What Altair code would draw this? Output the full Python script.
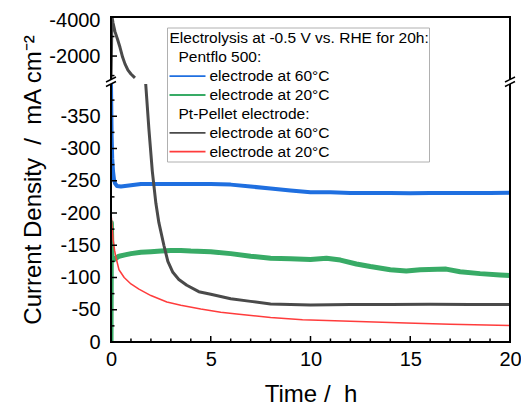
import altair as alt
import pandas as pd

# ---------------- data (time in h, current density in mA cm^-2) ----------------
blue_t = [0.0, 0.03, 0.06, 0.1, 0.15, 0.2, 0.3, 0.5, 1.0, 1.5, 2.0, 3.0, 4.0, 5.0, 6.0, 7.0,
          8.0, 9.0, 10.0, 11.0, 12.0, 13.0, 14.0, 15.0, 16.0, 17.0, 18.0, 19.0, 20.0]
blue_v = [-400, -320, -285, -265, -252, -246, -242, -241, -243, -245, -245, -245, -245, -245,
          -244, -241, -238, -235, -232, -232, -231, -231, -231, -230.5, -231, -231, -231, -231, -231.5]

green_t = [0.0, 0.02, 0.05, 0.1, 0.2, 0.4, 0.7, 1.0, 1.5, 2.0, 2.5, 3.0, 3.5, 4.0, 5.0, 6.0,
           7.0, 8.0, 9.0, 10.0, 10.8, 11.5, 12.3, 13.0, 14.0, 14.8, 15.5, 16.8, 17.5, 18.5, 19.5, 20.0]
green_v = [0, -185, -130, -127, -129, -133, -135, -137, -139, -140, -141, -142, -142, -141, -140,
           -137, -133, -130, -129, -128, -130, -127, -121, -117, -112, -110, -112, -113, -109,
           -106, -104, -103]

black_top_t = [0.0, 0.05, 0.1, 0.2, 0.33, 0.45, 0.58, 0.7, 0.85, 1.0, 1.2]
black_top_v = [-850, -4000, -3700, -3250, -2850, -2450, -1950, -1600, -1280, -1080, -880]
black_bot_t = [1.74, 1.9, 2.07, 2.25, 2.4, 2.65, 2.85, 3.1, 3.4, 3.8, 4.4, 5.0, 6.0, 7.0, 8.0,
               9.0, 10.0, 12.0, 14.0, 16.0, 18.0, 20.0]
black_bot_v = [-400, -330, -265, -215, -185, -150, -125, -108, -97, -88, -78, -74, -67, -63,
               -59, -58, -57.5, -58, -58, -58.5, -58, -58]

red_t = [0.02, 0.05, 0.1, 0.18, 0.25, 0.4, 0.66, 1.0, 1.4, 2.0, 2.8, 3.5, 4.5, 5.5, 6.3, 8.0,
         9.6, 12.0, 14.8, 17.0, 20.0]
red_v = [-193, -180, -160, -142, -131, -112, -100, -90, -82, -72, -62, -57, -51, -46, -43.5,
         -38, -34.5, -32, -29.3, -27.5, -25.5]

x_major = [0, 5, 10, 15, 20]
x_minor = [1, 2, 3, 4, 6, 7, 8, 9, 11, 12, 13, 14, 16, 17, 18, 19]
y_major = [0, -50, -100, -150, -200, -250, -300, -350, -2000, -4000]
y_minor = [-25, -75, -125, -175, -225, -275, -325, -375, -1000, -3000]

legend_title = "Electrolysis at -0.5 V vs. RHE for 20h:"
legend_groups = ["Pentflo 500:", "Pt-Pellet electrode:"]
legend_labels = ["electrode at 60°C", "electrode at 20°C", "electrode at 60°C", "electrode at 20°C"]
colors = ["#1f6fe0", "#38ab66", "#4a4a4a", "#ff3c3c"]
widths = [4, 5, 3, 1.5]

# ---------------- broken axis geometry ----------------
W, H = 399, 325
LOW_TOP = -400       # top of lower segment
HIGH_BOT = -800      # bottom of upper segment
HIGH_TOP = -4000
K1 = 0.645           # px per unit in lower segment
GAP = 4.5
P_LOW = -LOW_TOP * K1
P_HIGH0 = P_LOW + GAP
K2 = (H - P_HIGH0) / (HIGH_BOT - HIGH_TOP)

calc = (f"datum.v >= {LOW_TOP} ? -datum.v*{K1} : "
        f"{P_HIGH0} + (-datum.v - {-HIGH_BOT})*{K2}")


def p_of(v):
    return -v * K1 if v >= LOW_TOP else P_HIGH0 + (-v + HIGH_BOT) * K2


ypos = [round(p_of(v), 4) for v in y_major]
label_expr = "''"
for v, p in zip(y_major, ypos):
    label_expr = f"abs(datum.value - {p}) < 0.5 ? '{v}' : ({label_expr})"

xscale = alt.Scale(domain=[0, 20], nice=False, zero=False)
yscale = alt.Scale(domain=[0, H], nice=False, zero=False)

FONT = "Liberation Sans"
NB = "\u00a0"

x_axis = alt.Axis(values=x_major, ticks=False, domain=False, grid=False, labelFlush=False,
                  labelPadding=7, titlePadding=13, title=f"Time /{NB} h",
                  labelFontSize=20, titleFontSize=24, labelOverlap=False)
y_axis = alt.Axis(values=ypos, labelExpr=label_expr, ticks=False, domain=False, grid=False,
                  labelPadding=11, titlePadding=3,
                  labelOffset={"expr": f"datum.value > {H - 2} ? 3 : 0"},
                  title=f"Current Density{NB}{NB}/{NB}{NB}mA cm\u207b\u00b2",
                  labelFontSize=20, titleFontSize=24, labelOverlap=False)


def series_df(ts, vs, seg=0):
    return pd.DataFrame({"t": ts, "v": vs, "seg": seg})


series = [
    series_df(blue_t, blue_v),
    series_df(green_t, green_v),
    pd.concat([series_df(black_top_t, black_top_v, 0), series_df(black_bot_t, black_bot_v, 1)]),
    series_df(red_t, red_v),
]

X = alt.X("t:Q", scale=xscale, axis=x_axis)
Y = alt.Y("p:Q", scale=yscale, axis=y_axis)

layers = []
for df, c, w in zip(series, colors, widths):
    layers.append(
        alt.Chart(df).transform_calculate(p=calc)
        .mark_line(color=c, strokeWidth=w, clip=True, strokeJoin="round")
        .encode(x=X, y=Y, detail="seg:N")
    )

# inward ticks
def yticks(vals, length):
    return (alt.Chart(pd.DataFrame({"v": vals})).transform_calculate(p=calc)
            .mark_rule(color="black", strokeWidth=1.5)
            .encode(y=Y, x=alt.value(0), x2=alt.value(length)))


def xticks(vals, length):
    return (alt.Chart(pd.DataFrame({"t": vals}))
            .mark_rule(color="black", strokeWidth=1.5)
            .encode(x=X, y=alt.value(H), y2=alt.value(H - length)))


layers += [yticks(y_major, 6), yticks(y_minor, 3.5), xticks(x_major, 6), xticks(x_minor, 3.5)]

one = pd.DataFrame({"a": [0]})

# frame
layers.append(alt.Chart(one).mark_rect(fill=None, stroke="black", strokeWidth=2).encode(
    x=alt.value(0), x2=alt.value(W), y=alt.value(0), y2=alt.value(H)))

# axis break marks
yb1, yb2 = H - P_HIGH0, H - P_LOW
for xe in [0, W]:
    layers.append(alt.Chart(one).mark_rect(color="white").encode(
        x=alt.value(xe - 3), x2=alt.value(xe + 3), y=alt.value(yb1), y2=alt.value(yb2)))
    for yb in [yb1, yb2]:
        layers.append(alt.Chart(one).mark_rule(color="black", strokeWidth=1.5).encode(
            x=alt.value(xe - 5), x2=alt.value(xe + 5), y=alt.value(yb + 2.5), y2=alt.value(yb - 2.5)))

# legend box
layers.append(alt.Chart(one).mark_rect(fill="white", stroke="#b0b0b0", strokeWidth=1).encode(
    x=alt.value(56.5), x2=alt.value(318.5), y=alt.value(11), y2=alt.value(145)))

row0, dy = 21.3, 18.9
rows = [(legend_title, 58.5, None), (legend_groups[0], 67.5, None),
        (legend_labels[0], 98.5, colors[0]), (legend_labels[1], 98.5, colors[1]),
        (legend_groups[1], 67.5, None),
        (legend_labels[2], 98.5, colors[2]), (legend_labels[3], 98.5, colors[3])]
for k, (txt, xt, col) in enumerate(rows):
    yy = row0 + k * dy
    layers.append(alt.Chart(one).mark_text(text=txt, align="left", baseline="middle",
                                           fontSize=15.5, font=FONT, color="black").encode(
        x=alt.value(xt), y=alt.value(yy)))
    if col:
        layers.append(alt.Chart(one).mark_rule(color=col, strokeWidth=1.8).encode(
            x=alt.value(58.5), x2=alt.value(94.5), y=alt.value(yy)))

chart = (alt.layer(*layers)
         .properties(width=W, height=H,
                     autosize=alt.AutoSizeParams(type="none"),
                     padding={"left": 103, "top": 9, "right": 11, "bottom": 64})
         .configure(font=FONT)
         .configure_view(stroke=None)
         .configure_axis(labelFont=FONT, titleFont=FONT, labelColor="black", titleColor="black",
                         titleFontWeight="normal"))

chart.save("out.html", embed_options={"renderer": "svg", "actions": False})
